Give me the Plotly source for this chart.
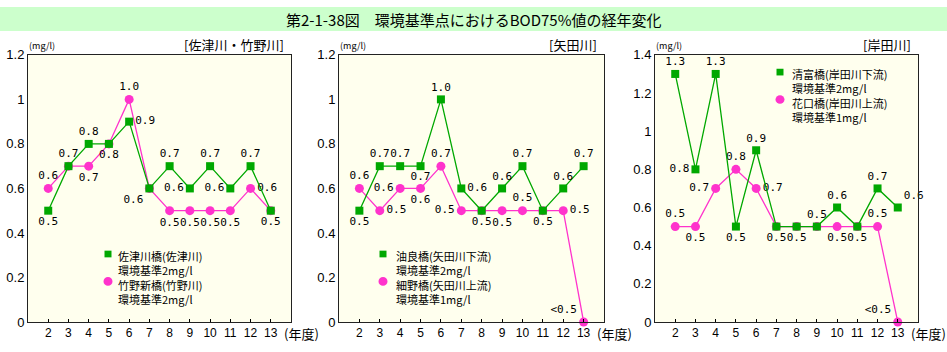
import plotly.graph_objects as go

W, H = 947, 352

years = list(range(2, 14))

# Panel 1 [佐津川・竹野川]
p1_green = [0.5, 0.7, 0.8, 0.8, 0.9, 0.6, 0.7, 0.6, 0.7, 0.6, 0.7, 0.5]
p1_pink = [0.6, 0.7, 0.7, 0.8, 1.0, 0.6, 0.5, 0.5, 0.5, 0.5, 0.6, 0.5]
# Panel 2 [矢田川]
p2_green = [0.5, 0.7, 0.7, 0.7, 1.0, 0.6, 0.5, 0.6, 0.7, 0.5, 0.6, 0.7]
p2_pink = [0.6, 0.5, 0.6, 0.6, 0.7, 0.5, 0.5, 0.5, 0.5, 0.5, 0.5, 0.0]
# Panel 3 [岸田川]
p3_green = [1.3, 0.8, 1.3, 0.5, 0.9, 0.5, 0.5, 0.5, 0.6, 0.5, 0.7, 0.6]
p3_pink = [0.5, 0.5, 0.7, 0.8, 0.7, 0.5, 0.5, 0.5, 0.5, 0.5, 0.5, 0.0]

p1_green_pos = ["bottom center", "top center", "top center", "bottom center", "middle right", "bottom left",
                "top center", "middle left", "top center", "middle left", "top center", "bottom center"]
p1_pink_pos = ["top center", None, "bottom center", None, "top center", None,
               "bottom center", "bottom center", "bottom center", "bottom center", "middle right", None]
p2_green_pos = ["bottom center", "top center", "top center", "bottom center", "top center", "middle right",
                "bottom center", "top center", "top center", "bottom center", "top center", "top center"]
p2_pink_pos = ["top center", "middle right", "middle left", "bottom center", "top center", "middle left",
               None, "bottom center", "top center", None, "middle right", "top left"]
p3_green_pos = ["top center", "middle left", "top center", "bottom center", "top center", "bottom center",
                "bottom center", "top center", "top center", "bottom center", "top center", "top right"]
p3_pink_pos = ["top center", "bottom center", "middle left", "top center", "middle right", None,
               None, None, "bottom center", None, "top center", "top left"]

region_labels = ["[佐津川・竹野川]", "[矢田川]", "[岸田川]"]
legend_names = [
    ["佐津川橋(佐津川)", "竹野新橋(竹野川)"],
    ["油良橋(矢田川下流)", "細野橋(矢田川上流)"],
    ["清富橋(岸田川下流)", "花口橋(岸田川上流)"],
]
legend_std = [
    ["環境基準2mg/l", "環境基準2mg/l"],
    ["環境基準2mg/l", "環境基準1mg/l"],
    ["環境基準2mg/l", "環境基準1mg/l"],
]
y_max = [1.2, 1.2, 1.4]
title = "第2-1-38図　環境基準点におけるBOD75%値の経年変化"

GREEN = "#00A800"
PINK = "#FF33CC"
JP = "Noto Sans CJK JP"
MONO = "DejaVu Sans Mono"


def lab(v):
    return "<0.5" if v == 0 else f"{v:.1f}"


def texts(vals, pos):
    t = [lab(v) if p is not None else "" for v, p in zip(vals, pos)]
    tp = [p if p is not None else "top center" for p in pos]
    return t, tp


def px(x):
    return x / W


def py(y):
    return 1 - y / H


fig = go.Figure()

panels = [(p1_green, p1_pink, p1_green_pos, p1_pink_pos),
          (p2_green, p2_pink, p2_green_pos, p2_pink_pos),
          (p3_green, p3_pink, p3_green_pos, p3_pink_pos)]

for i, (g, p, gpos, ppos) in enumerate(panels):
    xa = "x" if i == 0 else f"x{i+1}"
    ya = "y" if i == 0 else f"y{i+1}"
    tp_, tpp = texts(p, ppos)
    fig.add_trace(go.Scatter(x=years, y=p, mode="lines+markers+text", xaxis=xa, yaxis=ya,
                             line=dict(color=PINK, width=1.3),
                             marker=dict(symbol="circle", size=9, color=PINK),
                             text=tp_, textposition=tpp, cliponaxis=False,
                             textfont=dict(family=MONO, size=11, color="black"),
                             showlegend=False))
    tg, tpg = texts(g, gpos)
    fig.add_trace(go.Scatter(x=years, y=g, mode="lines+markers+text", xaxis=xa, yaxis=ya,
                             line=dict(color=GREEN, width=1.3),
                             marker=dict(symbol="square", size=8, color=GREEN),
                             text=tg, textposition=tpg, cliponaxis=False,
                             textfont=dict(family=MONO, size=11, color="black"),
                             showlegend=False))

xdoms = [(28, 291), (339, 604), (655, 918)]
ydom = [py(329), py(50)]

layout = dict(
    width=W, height=H, margin=dict(l=0, r=0, t=0, b=0),
    paper_bgcolor="white", plot_bgcolor="#FFFFEE",
    font=dict(family=JP, size=12, color="black"),
)

annotations = []
shapes = [dict(type="rect", xref="paper", yref="paper", x0=0, x1=1, y0=py(25), y1=1,
               fillcolor="#CCFFCC", line=dict(width=0), layer="below")]
annotations.append(dict(text=title, xref="paper", yref="paper", x=px(473), y=py(13),
                        showarrow=False, font=dict(family=JP, size=15, color="black"),
                        xanchor="center", yanchor="middle"))

for i in range(3):
    sx = "" if i == 0 else str(i + 1)
    ymax = y_max[i]
    tv = [round(0.2 * k, 1) for k in range(int(round(ymax / 0.2)) + 1)]
    tt = ["0" if v == 0 else ("1" if v == 1 else f"{v:.1f}") for v in tv]
    layout["xaxis" + sx] = dict(domain=[px(xdoms[i][0]), px(xdoms[i][1])], range=[1, 14],
                                anchor="y" + sx, tickvals=years, ticks="inside", ticklen=3,
                                tickcolor="black", showgrid=False, zeroline=False,
                                showline=True, linecolor="#222", linewidth=1, mirror=True,
                                tickfont=dict(family="Liberation Sans", size=12))
    layout["yaxis" + sx] = dict(domain=ydom, range=[0, ymax], anchor="x" + sx,
                                tickvals=tv, ticktext=tt, showgrid=False, zeroline=False,
                                showline=True, linecolor="#222", linewidth=1, mirror=True,
                                tickfont=dict(family="Liberation Sans", size=13))
    x0, x1 = xdoms[i]
    annotations.append(dict(text="(mg/l)", xref="paper", yref="paper", x=px(x0 - 1), y=py(40),
                            showarrow=False, xanchor="left", yanchor="middle",
                            font=dict(family=JP, size=9)))
    annotations.append(dict(text=region_labels[i], xref="paper", yref="paper", x=px(x1 - 5), y=py(39),
                            showarrow=False, xanchor="right", yanchor="middle",
                            font=dict(family=JP, size=13)))
    annotations.append(dict(text="(年度)", xref="paper", yref="paper", x=px(x1 - 9), y=py(341),
                            showarrow=False, xanchor="left", yanchor="middle",
                            font=dict(family=JP, size=13)))

# legends: (marker x, text x, y of first line center)
leg_pos = [(108, 117, 258), (383, 395, 258), (780, 791, 68)]
FS = 11
LH = FS * 1.3
for i, (mx, tx, y0) in enumerate(leg_pos):
    lines = [legend_names[i][0], legend_std[i][0], legend_names[i][1], legend_std[i][1]]
    top = y0 - LH / 2
    annotations.append(dict(text="<br>".join(lines),
                            xref="paper", yref="paper", x=px(tx), y=py(top),
                            showarrow=False, xanchor="left", yanchor="top", align="left",
                            borderpad=0, font=dict(family=JP, size=FS)))
    s = 3.5
    shapes.append(dict(type="rect", xref="paper", yref="paper",
                       x0=px(mx - s), x1=px(mx + s), y0=py(y0 + s), y1=py(y0 - s),
                       fillcolor=GREEN, line=dict(width=0)))
    r = 4.5
    yc = y0 + 2 * LH
    shapes.append(dict(type="circle", xref="paper", yref="paper",
                       x0=px(mx - r), x1=px(mx + r), y0=py(yc + r), y1=py(yc - r),
                       fillcolor=PINK, line=dict(width=0)))

layout["annotations"] = annotations
layout["shapes"] = shapes
fig.update_layout(**layout)
fig.write_html("out.html")
